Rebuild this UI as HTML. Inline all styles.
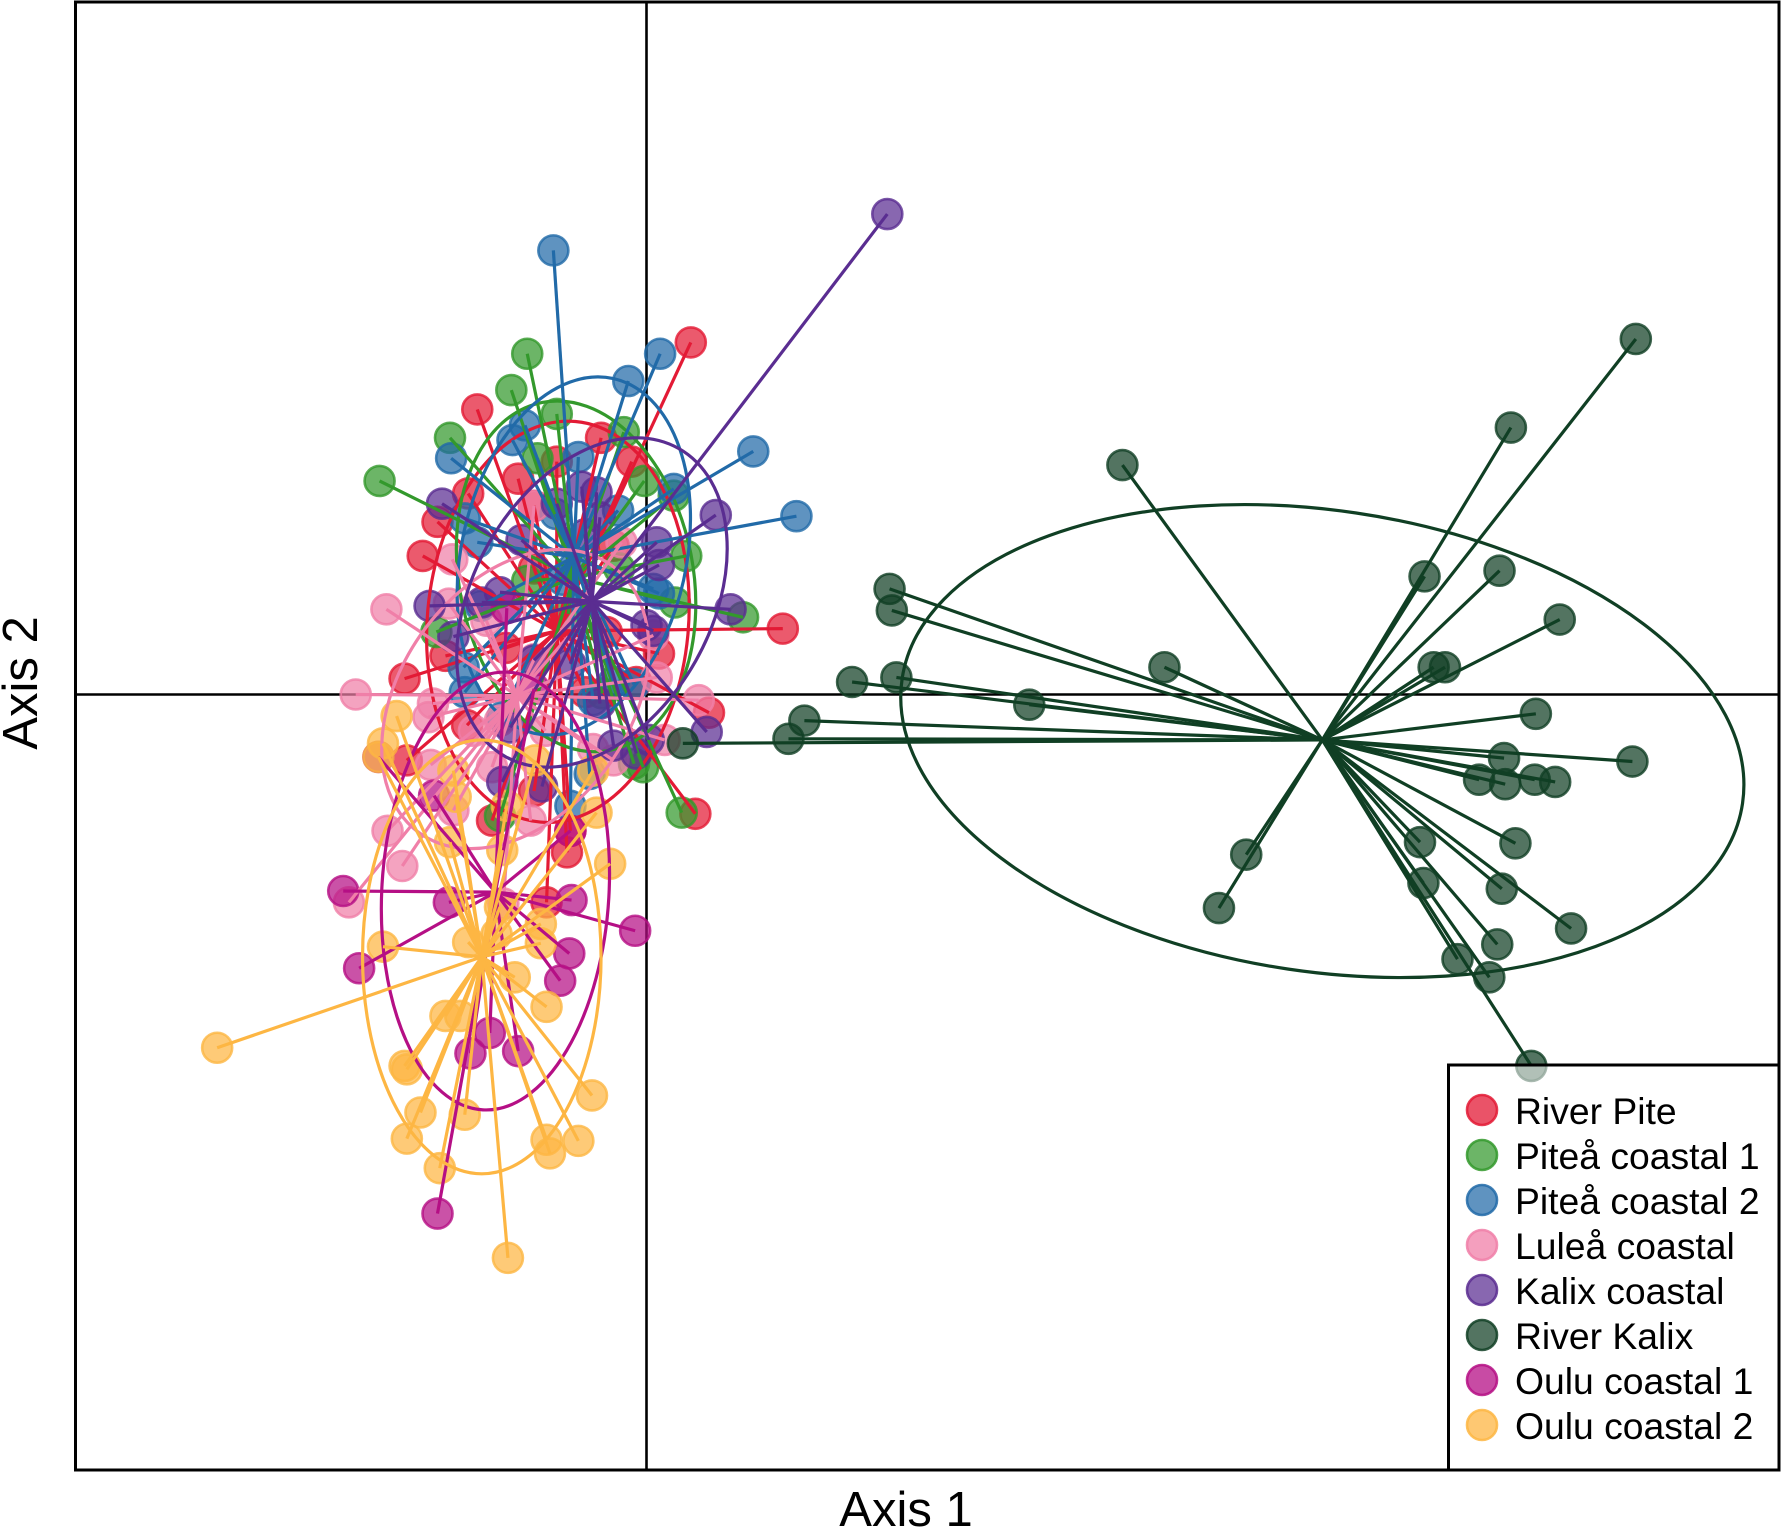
<!DOCTYPE html>
<html lang="en">
<head>
<meta charset="utf-8">
<title>Ordination spider plot</title>
<style>
html,body{margin:0;padding:0;background:#fff;width:1781px;height:1528px;overflow:hidden}
svg{display:block}
text{font-family:"Liberation Sans",sans-serif;fill:#000}
.legend-label{font-size:37.3px}
.axis-title{font-size:49px}
</style>
</head>
<body>
<svg id="chart" width="1781" height="1528" viewBox="0 0 1781 1528" xmlns="http://www.w3.org/2000/svg">
  <line x1="646.5" y1="2" x2="646.5" y2="1470" stroke="#000" stroke-width="2.6"/>
  <line x1="75" y1="694.5" x2="1779" y2="694.5" stroke="#000" stroke-width="2.6"/>
  <g id="points"></g>
  <g id="series"></g>
  <rect x="75.5" y="2" width="1703.5" height="1468" fill="none" stroke="#000" stroke-width="3"/>
  <text class="axis-title" x="906" y="1526" text-anchor="middle">Axis 1</text>
  <text class="axis-title" x="0" y="0" text-anchor="middle" transform="translate(37 683) rotate(-90)">Axis 2</text>
  <g>
    <rect x="1448.5" y="1065" width="330.5" height="405" fill="#fff" fill-opacity="0.55" stroke="#000" stroke-width="3"/>
    <g><circle cx="1482" cy="1110" r="15" fill="#e31a35" fill-opacity=".75" stroke="#e31a35" stroke-opacity=".85" stroke-width="2.6"/><text class="legend-label" x="1515" y="1124">River Pite</text></g>
    <g><circle cx="1482" cy="1155" r="15" fill="#33992c" fill-opacity=".72" stroke="#33992c" stroke-opacity=".85" stroke-width="2.6"/><text class="legend-label" x="1515" y="1169">Piteå coastal 1</text></g>
    <g><circle cx="1482" cy="1200" r="15" fill="#216aa8" fill-opacity=".72" stroke="#216aa8" stroke-opacity=".85" stroke-width="2.6"/><text class="legend-label" x="1515" y="1214">Piteå coastal 2</text></g>
    <g><circle cx="1482" cy="1245" r="15" fill="#f07fa8" fill-opacity=".75" stroke="#f07fa8" stroke-opacity=".85" stroke-width="2.6"/><text class="legend-label" x="1515" y="1259">Luleå coastal</text></g>
    <g><circle cx="1482" cy="1290" r="15" fill="#5a2d91" fill-opacity=".72" stroke="#5a2d91" stroke-opacity=".85" stroke-width="2.6"/><text class="legend-label" x="1515" y="1304">Kalix coastal</text></g>
    <g><circle cx="1482" cy="1335" r="15" fill="#103f24" fill-opacity=".72" stroke="#103f24" stroke-opacity=".85" stroke-width="2.6"/><text class="legend-label" x="1515" y="1349">River Kalix</text></g>
    <g><circle cx="1482" cy="1380" r="15" fill="#b50f85" fill-opacity=".75" stroke="#b50f85" stroke-opacity=".85" stroke-width="2.6"/><text class="legend-label" x="1515" y="1394">Oulu coastal 1</text></g>
    <g><circle cx="1482" cy="1425" r="15" fill="#fdb643" fill-opacity=".75" stroke="#fdb643" stroke-opacity=".85" stroke-width="2.6"/><text class="legend-label" x="1515" y="1439">Oulu coastal 2</text></g>
  </g>
</svg>
<script>
// Ordination scores (axis 1, axis 2) x 100.
const riverPiteScores = [[39,310],[-149,251],[-40,226],[-79,205],[-13,205],[-113,190],[-157,177],[-99,166],[-184,152],[-197,122],[-213,14],[120,58],[55,-16],[43,-105],[-177,34],[-158,-27],[-211,-58],[-136,-111],[-99,-85],[-67,-120],[-70,-139],[-88,-183],[-35,55],[-54,2],[-9,11],[-124,41],[-99,111],[-29,131],[11,36]];
const piteaOneScores = [[-105,300],[-119,268],[-79,247],[-20,231],[-173,226],[-96,208],[-235,188],[-2,188],[24,175],[35,122],[-105,100],[25,81],[85,68],[-185,55],[-3,-64],[31,-104],[-11,-61],[-129,-107],[-69,71],[-24,111],[-39,1]];
const piteaTwoScores = [[-82,391],[12,300],[-16,276],[94,214],[-107,237],[-118,224],[-60,209],[-172,208],[132,157],[24,181],[-160,155],[-149,134],[6,93],[-80,159],[-161,24],[-160,2],[-127,-20],[-11,9],[-47,-5],[-67,-98],[-50,-70],[11,89],[-146,78],[-64,112],[-25,162],[-74,101],[-29,11]];
const luleaScores = [[-171,119],[-99,166],[-174,80],[-229,75],[-22,134],[-256,0],[9,15],[46,-5],[-188,-8],[-192,-20],[-190,-62],[-170,-102],[-228,-120],[-215,-151],[-136,-64],[-152,-32],[-102,-111],[-89,-32],[-47,-48],[16,-40],[-29,-58],[6,52],[-262,-183],[-126,-184],[-129,-23],[-141,65],[-99,31],[-69,51]];
const kalixCoastalScores = [[212,423],[-180,168],[61,158],[-44,178],[-57,183],[-79,168],[-41,156],[-110,136],[9,134],[11,114],[-191,78],[-145,81],[-129,90],[74,75],[-170,51],[6,56],[53,-33],[-29,-45],[2,-40],[-9,-52],[-127,-77],[-92,-81],[-67,27],[-99,30],[-120,-29],[-41,-8],[0,61],[-54,141]];
const riverKalixScores = [[871,313],[761,235],[419,202],[685,104],[751,109],[804,66],[214,93],[216,74],[456,24],[693,24],[703,24],[337,-9],[220,15],[181,11],[139,-23],[125,-39],[32,-43],[783,-17],[868,-59],[755,-56],[733,-75],[756,-79],[782,-75],[800,-77],[681,-130],[765,-131],[528,-141],[504,-188],[684,-166],[753,-171],[814,-206],[749,-220],[714,-233],[742,-249],[779,-327]];
const ouluOneScores = [[-267,-173],[-174,-183],[-66,-181],[-10,-208],[-253,-241],[-68,-228],[-76,-252],[-138,-298],[-155,-316],[-113,-314],[-184,-457],[-236,-55],[-187,-89],[-67,-120],[-123,76],[-99,5]];
const ouluTwoScores = [[-378,-311],[-122,-496],[-48,-353],[-60,-393],[-88,-392],[-85,-404],[-182,-417],[-211,-391],[-199,-368],[-160,-370],[-213,-327],[-211,-330],[-177,-283],[-164,-283],[-88,-275],[-116,-249],[-232,-222],[-157,-218],[-132,-211],[-129,-187],[-93,-219],[-93,-202],[-32,-149],[-220,-19],[-232,-43],[-236,-55],[-170,-67],[-168,-90],[-173,-130],[-127,-137],[-123,-98],[-98,-58],[-44,-104],[-47,-67]];

const groupNames = ['river-pite','pitea-coastal-1','pitea-coastal-2','lulea-coastal','kalix-coastal','river-kalix','oulu-coastal-1','oulu-coastal-2'];
const groupScores = [riverPiteScores,piteaOneScores,piteaTwoScores,luleaScores,kalixCoastalScores,riverKalixScores,ouluOneScores,ouluTwoScores];
// Group centroids (axis 1, axis 2) x 100
const groupCentroids = [[-79,56],[-64,103],[-64,121],[-114,-1],[-48,82],[595,-40],[-133,-174],[-145,-231]];
// Dispersion ellipses: centre axis 1, centre axis 2, semi-axis 1, semi-axis 2, tilt in degrees
const groupEllipses = [[-78,64,115,177,5],[-62,104,103,156,-11],[-64,122,99,160,12.6],[-115.5,-4,100.7,145,35.6],[-48,81,104.8,155.6,29.4],[595,-41,374,203,8.45],[-133,-173,100,193,3.3],[-145,-231,105,191,0]];
const groupColors = ['#e31a35','#33992c','#216aa8','#f07fa8','#5a2d91','#103f24','#b50f85','#fdb643'];

const unit = 1781 / 1568;
const xScale = v => 646.5 + v * unit;
const yScale = v => 694.5 - v * unit;
const lenScale = v => v * unit;

const NS = 'http://www.w3.org/2000/svg';
const pointLayer = document.getElementById('points');
const spiderLayer = document.getElementById('series');

function make(tag, attrs, parent) {
  const el = document.createElementNS(NS, tag);
  for (const k in attrs) el.setAttribute(k, attrs[k]);
  parent.appendChild(el);
  return el;
}

// All points are drawn first; every spider line and ellipse sits above them.
groupScores.forEach((scores, i) => {
  const color = groupColors[i];
  const name = groupNames[i];
  scores.forEach(p => {
    const dot = make('circle', {cx: xScale(p[0]), cy: yScale(p[1]), r: 15, fill: color, 'fill-opacity': 0.72, stroke: color, 'stroke-opacity': 0.8, 'stroke-width': 2.6}, pointLayer);
    
    
  });
});

groupScores.forEach((scores, i) => {
  const color = groupColors[i];
  const name = groupNames[i];
  const c = groupCentroids[i];
  const e = groupEllipses[i];
  scores.forEach(p => {
    const spoke = make('line', {x1: xScale(c[0]), y1: yScale(c[1]), x2: xScale(p[0]), y2: yScale(p[1]), stroke: color, 'stroke-width': 3.2}, spiderLayer);
    
    
  });
  const cx = xScale(e[0]);
  const cy = yScale(e[1]);
  const ell = make('ellipse', {cx: cx, cy: cy, rx: lenScale(e[2]), ry: lenScale(e[3]), fill: 'none', stroke: color, 'stroke-width': 3.2, transform: 'rotate(' + e[4] + ' ' + cx + ' ' + cy + ')'}, spiderLayer);
  
  
});
</script>
</body>
</html>
